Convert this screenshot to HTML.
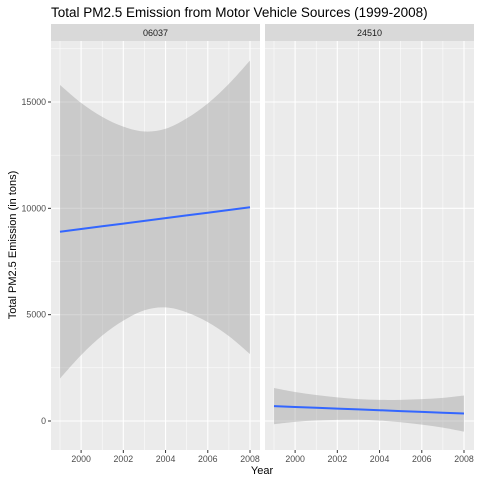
<!DOCTYPE html>
<html><head><meta charset="utf-8"><style>
body{margin:0;background:#fff}
svg{font-family:"Liberation Sans",Arial,sans-serif;display:block}
</style></head><body>
<svg id="chart" width="480" height="480" viewBox="0 0 480 480"></svg>
<script>
const years=[1999,2000,2001,2002,2003,2004,2005,2006,2007,2008];
const panelLabels=["06037","24510"];
const fit06037=[8900,9028,9156,9283,9411,9539,9667,9794,9922,10050];
const upper06037=[15800,14960,14300,13840,13610,13740,14230,14930,15850,16950];
const lower06037=[2000,3100,4020,4720,5210,5340,5110,4650,3990,3150];
const fit24510=[700,661,622,583,544,506,467,428,389,350];
const upper24510=[1550,1361,1222,1111,1030,992,995,1028,1089,1200];
const lower24510=[-150,-39,22,55,58,20,-61,-172,-311,-500];
const xTicks=[2000,2002,2004,2006,2008];
const yTicks=[0,5000,10000,15000];
const yMinor=[2500,7500,12500,17500];
const xMinor=[1999,2001,2003,2005,2007];

const svg=document.getElementById('chart');
const NS='http://www.w3.org/2000/svg';
function mk(t,a,p){const e=document.createElementNS(NS,t);for(const k in a)e.setAttribute(k,a[k]);(p||svg).appendChild(e);return e;}
function smooth(pts){
  let d='';
  for(let i=0;i<pts.length-1;i++){
    const p0=pts[Math.max(i-1,0)],p1=pts[i],p2=pts[i+1],p3=pts[Math.min(i+2,pts.length-1)];
    const c1=[p1[0]+(p2[0]-p0[0])/6,p1[1]+(p2[1]-p0[1])/6];
    const c2=[p2[0]-(p3[0]-p1[0])/6,p2[1]-(p3[1]-p1[1])/6];
    d+='C'+c1.join(',')+' '+c2.join(',')+' '+p2.join(',');
  }
  return d;
}
const panelTop=41,panelBot=450;
function yScale(v){return 421-v*(421-102)/15000;}
const panels=[{x0:51,x1:260,fit:fit06037,up:upper06037,lo:lower06037},{x0:265,x1:474,fit:fit24510,up:upper24510,lo:lower24510}];
panels.forEach((p,i)=>{
  const xs=v=>p.x0+9+(v-1999)*(p.x1-p.x0-19)/9;
  const g=mk('g',{});
  
  
  const bg=mk('rect',{x:p.x0,y:panelTop,width:p.x1-p.x0,height:panelBot-panelTop,fill:'#ebebeb'},g);
  
  
  yMinor.forEach(v=>mk('line',{x1:p.x0,x2:p.x1,y1:yScale(v),y2:yScale(v),stroke:'#fff','stroke-width':0.5},g));
  xMinor.forEach(v=>mk('line',{x1:xs(v),x2:xs(v),y1:panelTop,y2:panelBot,stroke:'#fff','stroke-width':0.5},g));
  yTicks.forEach(v=>mk('line',{x1:p.x0,x2:p.x1,y1:yScale(v),y2:yScale(v),stroke:'#fff','stroke-width':1.1},g));
  xTicks.forEach(v=>mk('line',{x1:xs(v),x2:xs(v),y1:panelTop,y2:panelBot,stroke:'#fff','stroke-width':1.1},g));
  const upPts=years.map((yr,j)=>[xs(yr),yScale(p.up[j])]);
  const loPts=years.map((yr,j)=>[xs(yr),yScale(p.lo[j])]).reverse();
  const d='M'+upPts[0].join(',')+smooth(upPts)+'L'+loPts[0].join(',')+smooth(loPts)+'Z';
  const band=mk('path',{d:d,fill:'#999','fill-opacity':0.4},g);
  
  
  const line=mk('path',{d:'M'+years.map((yr,j)=>xs(yr)+','+yScale(p.fit[j])).join('L'),stroke:'#3366FF','stroke-width':2,fill:'none'},g);
  
  
  const st=mk('rect',{x:p.x0,y:24,width:p.x1-p.x0,height:17,fill:'#d9d9d9'},g);
  
  
  const stt=mk('text',{x:(p.x0+p.x1)/2,y:36,'font-size':9,fill:'#1a1a1a','text-anchor':'middle'},g);
  stt.textContent=panelLabels[i];
  
  
  xTicks.forEach(v=>{
    mk('line',{x1:xs(v),x2:xs(v),y1:panelBot,y2:panelBot+3,stroke:'#333','stroke-width':1},g);
    const t=mk('text',{x:xs(v),y:panelBot+12,'font-size':8.8,fill:'#4d4d4d','text-anchor':'middle'},g);
    t.textContent=v;
    
    
  });
});
yTicks.forEach(v=>{
  mk('line',{x1:48,x2:51,y1:yScale(v),y2:yScale(v),stroke:'#333','stroke-width':1});
  const t=mk('text',{x:46,y:yScale(v)+3,'font-size':8.8,fill:'#4d4d4d','text-anchor':'end'});
  t.textContent=v;
  
  
});
const title=mk('text',{x:51,y:17,'font-size':13.5,fill:'#000'});
title.textContent='Total PM2.5 Emission from Motor Vehicle Sources (1999-2008)';


const xt=mk('text',{x:262,y:474,'font-size':11,fill:'#000','text-anchor':'middle'});
xt.textContent='Year';


const yt=mk('text',{x:0,y:0,'font-size':11,fill:'#000','text-anchor':'middle',transform:'translate(16,245) rotate(-90)'});
yt.textContent='Total PM2.5 Emission (in tons)';


</script>
</body></html>
